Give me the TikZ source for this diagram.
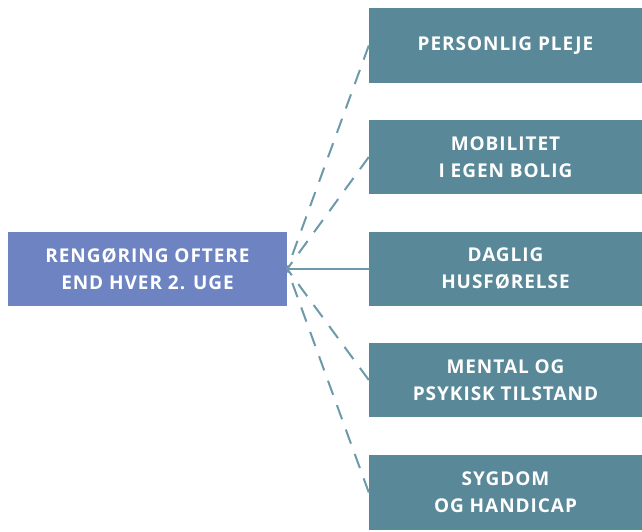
\documentclass[tikz,border=0pt]{standalone}
\usepackage{fontspec}
\setmainfont{Open Sans}[LetterSpace=5]
\definecolor{leftc}{RGB}{110,131,194}
\definecolor{rightc}{RGB}{89,136,152}
\definecolor{linec}{RGB}{108,154,170}
\begin{document}
\begin{tikzpicture}[x=1pt,y=-1pt,
  box/.style={rectangle, inner sep=0pt, minimum height=74pt, text=white, align=center,
    font=\fontsize{19}{27}\selectfont\bfseries},
  lbox/.style={box, fill=leftc, minimum width=279pt},
  rbox/.style={box, fill=rightc, minimum width=273pt},
  conn/.style={draw=linec, line width=2pt},
  dconn/.style={conn, dash pattern=on 15pt off 11pt}]
\useasboundingbox (0,0) rectangle (642,531);
\node[lbox] (l) at (147.5,269) {RENGØRING OFTERE\\END HVER 2. UGE};
\node[rbox, minimum height=75pt] (r1) at (505.5,45.5) {PERSONLIG PLEJE};
\node[rbox] (r2) at (505.5,157) {MOBILITET\\I EGEN BOLIG};
\node[rbox] (r3) at (505.5,269) {DAGLIG\\HUSFØRELSE};
\node[rbox] (r4) at (505.5,380) {MENTAL OG\\PSYKISK TILSTAND};
\node[rbox, minimum height=75pt] (r5) at (505.5,492.5) {SYGDOM\\OG HANDICAP};
\draw[dconn] (r1.west) -- (l.east);
\draw[dconn] (r2.west) -- (l.east);
\draw[conn] (r3.west) -- (l.east);
\draw[dconn] (r4.west) -- (l.east);
\draw[dconn] (r5.west) -- (l.east);
\end{tikzpicture}
\end{document}
